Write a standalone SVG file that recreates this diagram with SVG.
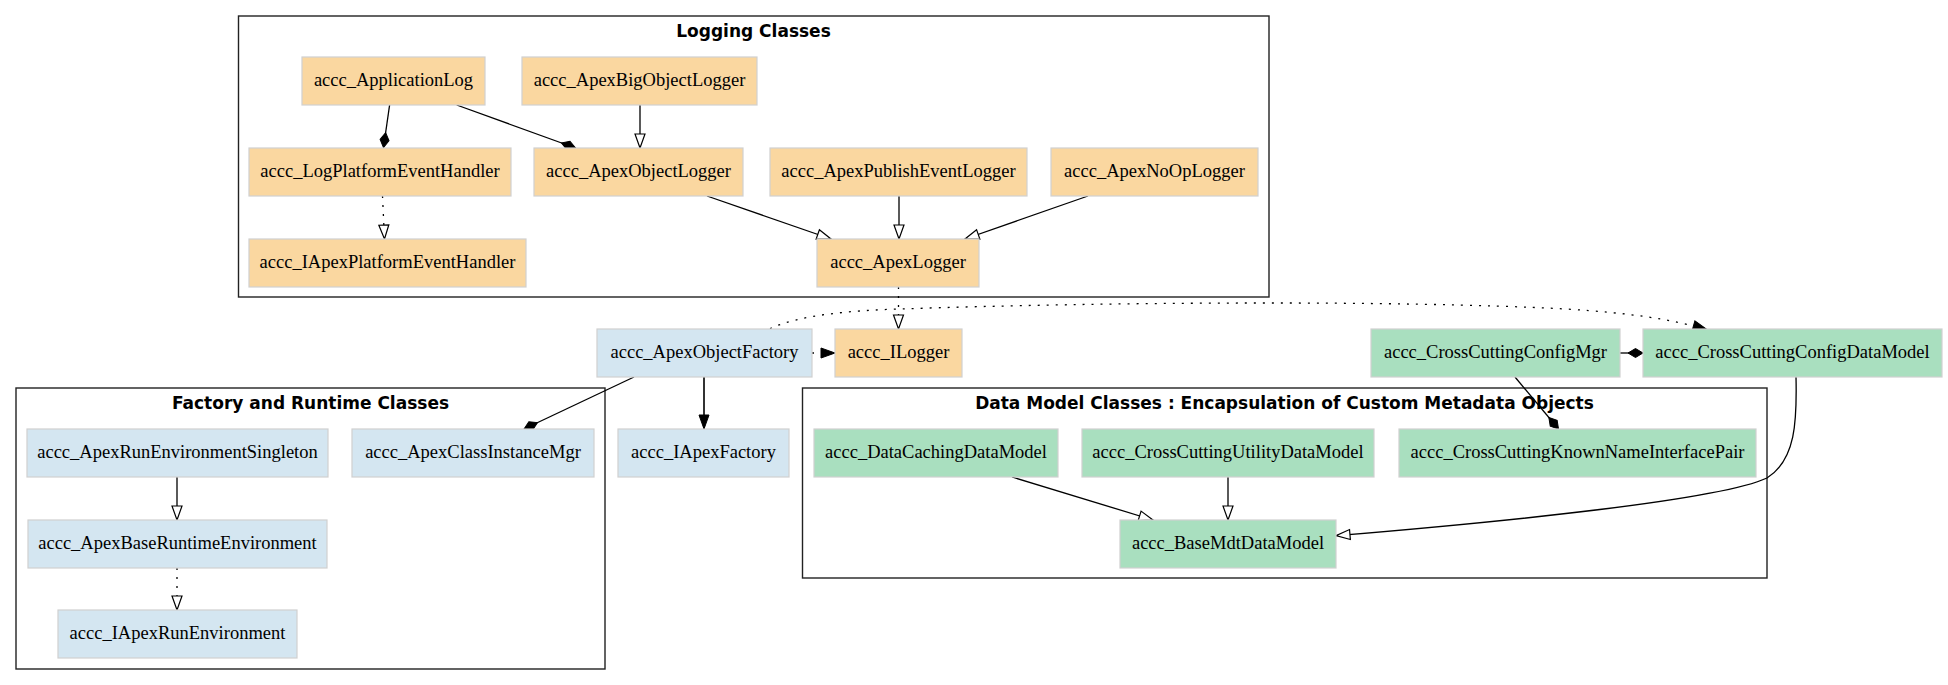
<svg xmlns="http://www.w3.org/2000/svg" width="1948" height="685" viewBox="0 0 1948 685">
<style>
.bg{fill:#ffffff}
.cl{fill:none;stroke:#222222;stroke-width:1.4}
.ct{font-family:"DejaVu Sans",Verdana,sans-serif;font-weight:bold;font-size:17px;fill:#000;text-anchor:middle}
.n rect{stroke:#d0d0d0;stroke-width:1.2}
.o rect{fill:#FAD7A0}
.b rect{fill:#D4E6F1}
.g rect{fill:#A9DFBF}
.n text{font-family:"Liberation Serif","Times New Roman",serif;font-size:18.5px;fill:#000;text-anchor:middle}
.e{fill:none;stroke:#000;stroke-width:1.3}
.d{stroke-dasharray:2,7}
.h{stroke:#333;stroke-width:2}
</style>
<defs>
<marker id="tri" markerUnits="userSpaceOnUse" markerWidth="16" markerHeight="12" refX="14" refY="5" orient="auto" overflow="visible">
<path d="M0,0 L14,5 L0,10 Z" fill="#fff" stroke="#000" stroke-width="1.2"/>
</marker>
<marker id="ftri" markerUnits="userSpaceOnUse" markerWidth="16" markerHeight="12" refX="14" refY="5" orient="auto" overflow="visible">
<path d="M0,0 L14,5 L0,10 Z" fill="#000" stroke="#000" stroke-width="1"/>
</marker>
<marker id="dia" markerUnits="userSpaceOnUse" markerWidth="17" markerHeight="11" refX="15" refY="4.5" orient="auto" overflow="visible">
<path d="M0,4.5 L7.5,0 L15,4.5 L7.5,9 Z" fill="#000" stroke="#000" stroke-width="1"/>
</marker>
</defs>
<rect class="bg" x="0" y="0" width="1948" height="685"/>

<g id="cluster_logging">
<rect class="cl" x="238.5" y="16" width="1030.5" height="281"/>
<text class="ct" x="753.5" y="37">Logging Classes</text>
</g>
<g id="cluster_factory">
<rect class="cl" x="16" y="388" width="589" height="281"/>
<text class="ct" x="310.5" y="409">Factory and Runtime Classes</text>
</g>
<g id="cluster_datamodel">
<rect class="cl" x="802.5" y="388" width="964.5" height="190"/>
<text class="ct" x="1284.5" y="409">Data Model Classes : Encapsulation of Custom Metadata Objects</text>
</g>

<g id="edges">
<path class="e" marker-end="url(#dia)" d="M389.6,105 L383.5,147.5"/>
<path class="e" marker-end="url(#dia)" d="M456.7,105 L575.5,148"/>
<path class="e" marker-end="url(#tri)" d="M640,105 L640,148"/>
<path class="e d" marker-end="url(#tri)" d="M382.5,196 L384.5,239"/>
<path class="e" marker-end="url(#tri)" d="M707,196 L831,239"/>
<path class="e" marker-end="url(#tri)" d="M899,196 L899,239"/>
<path class="e" marker-end="url(#tri)" d="M1088,196 L965,239"/>
<path class="e d" marker-end="url(#tri)" d="M898.5,287 L898.5,329"/>
<path class="e d" marker-end="url(#ftri)" d="M812,353 L835,353"/>
<path class="e h" marker-end="url(#ftri)" d="M704,377 L704,429"/>
<path class="e" marker-end="url(#dia)" d="M634,377 L524,429"/>
<path class="e d" marker-end="url(#ftri)" d="M770,328.5 C800,315 850,310.5 900,309 C1100,302 1400,300 1566,309 C1630,313 1670,319 1707,329.5"/>
<path class="e" marker-end="url(#dia)" d="M1620,353 L1643,353"/>
<path class="e" marker-end="url(#dia)" d="M1515,377 L1558.5,429"/>
<path class="e" marker-end="url(#tri)" d="M1796,377 C1797,420 1796,460 1767,478 C1720,500 1500,522 1336,535.7"/>
<path class="e" marker-end="url(#tri)" d="M1012,477 L1153,520"/>
<path class="e" marker-end="url(#tri)" d="M1228,477 L1228,520"/>
<path class="e" marker-end="url(#tri)" d="M177,477 L177,520"/>
<path class="e d" marker-end="url(#tri)" d="M177,568 L177,610"/>
</g>

<g id="accc_ApplicationLog" class="n o"><rect x="302" y="57" width="183" height="48"/><text x="393.5" y="86">accc_ApplicationLog</text></g>
<g id="accc_ApexBigObjectLogger" class="n o"><rect x="522" y="57" width="235" height="48"/><text x="639.5" y="86">accc_ApexBigObjectLogger</text></g>
<g id="accc_LogPlatformEventHandler" class="n o"><rect x="249" y="148" width="262" height="48"/><text x="380" y="177">accc_LogPlatformEventHandler</text></g>
<g id="accc_ApexObjectLogger" class="n o"><rect x="534" y="148" width="209" height="48"/><text x="638.5" y="177">accc_ApexObjectLogger</text></g>
<g id="accc_ApexPublishEventLogger" class="n o"><rect x="770" y="148" width="257" height="48"/><text x="898.5" y="177">accc_ApexPublishEventLogger</text></g>
<g id="accc_ApexNoOpLogger" class="n o"><rect x="1051" y="148" width="207" height="48"/><text x="1154.5" y="177">accc_ApexNoOpLogger</text></g>
<g id="accc_IApexPlatformEventHandler" class="n o"><rect x="249" y="239" width="277" height="48"/><text x="387.5" y="268">accc_IApexPlatformEventHandler</text></g>
<g id="accc_ApexLogger" class="n o"><rect x="817" y="239" width="162" height="48"/><text x="898" y="268">accc_ApexLogger</text></g>
<g id="accc_ILogger" class="n o"><rect x="835" y="329" width="127" height="48"/><text x="898.5" y="358">accc_ILogger</text></g>

<g id="accc_ApexObjectFactory" class="n b"><rect x="597" y="329" width="215" height="48"/><text x="704.5" y="358">accc_ApexObjectFactory</text></g>
<g id="accc_IApexFactory" class="n b"><rect x="618" y="429" width="171" height="48"/><text x="703.5" y="458">accc_IApexFactory</text></g>
<g id="accc_ApexRunEnvironmentSingleton" class="n b"><rect x="27" y="429" width="301" height="48"/><text x="177.5" y="458">accc_ApexRunEnvironmentSingleton</text></g>
<g id="accc_ApexClassInstanceMgr" class="n b"><rect x="352" y="429" width="242" height="48"/><text x="473" y="458">accc_ApexClassInstanceMgr</text></g>
<g id="accc_ApexBaseRuntimeEnvironment" class="n b"><rect x="28" y="520" width="299" height="48"/><text x="177.5" y="549">accc_ApexBaseRuntimeEnvironment</text></g>
<g id="accc_IApexRunEnvironment" class="n b"><rect x="58" y="610" width="239" height="48"/><text x="177.5" y="639">accc_IApexRunEnvironment</text></g>

<g id="accc_CrossCuttingConfigMgr" class="n g"><rect x="1371" y="329" width="249" height="48"/><text x="1495.5" y="358">accc_CrossCuttingConfigMgr</text></g>
<g id="accc_CrossCuttingConfigDataModel" class="n g"><rect x="1643" y="329" width="299" height="48"/><text x="1792.5" y="358">accc_CrossCuttingConfigDataModel</text></g>
<g id="accc_DataCachingDataModel" class="n g"><rect x="814" y="429" width="244" height="48"/><text x="936" y="458">accc_DataCachingDataModel</text></g>
<g id="accc_CrossCuttingUtilityDataModel" class="n g"><rect x="1082" y="429" width="292" height="48"/><text x="1228" y="458">accc_CrossCuttingUtilityDataModel</text></g>
<g id="accc_CrossCuttingKnownNameInterfacePair" class="n g"><rect x="1399" y="429" width="357" height="48"/><text x="1577.5" y="458">accc_CrossCuttingKnownNameInterfacePair</text></g>
<g id="accc_BaseMdtDataModel" class="n g"><rect x="1120" y="520" width="216" height="48"/><text x="1228" y="549">accc_BaseMdtDataModel</text></g>
</svg>
